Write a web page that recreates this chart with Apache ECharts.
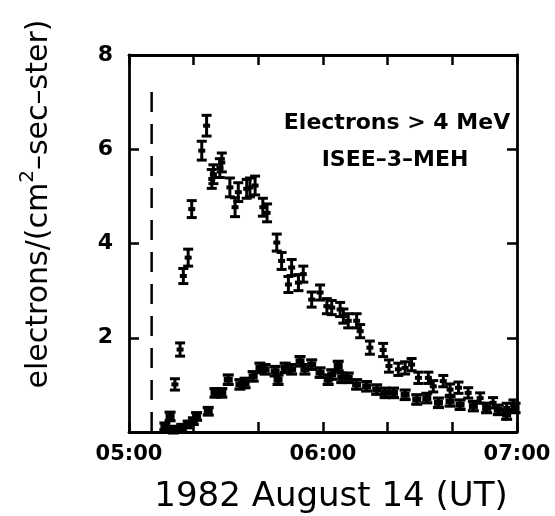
<!DOCTYPE html>
<html><head><meta charset="utf-8">
<script src="https://cdn.jsdelivr.net/npm/echarts@6/dist/echarts.min.js"></script>
<style>html,body{margin:0;padding:0;background:#fff}#c{width:555px;height:516px}</style>
</head><body><div id="c"></div>
<script>
// minutes after 05:00 UT
const hiTime = [14.2,15.8,16.8,18.3,19.4,22.5,24.0,25.6,26.1,28.1,28.7,31.2,32.8,33.8,36.4,37.4,39.0,41.4,42.7,45.7,47.2,49.3,50.3,52.4,53.9,56.5,59.1,61.2,62.7,65.3,66.3,67.8,70.4,71.5,74.5,78.6,80.4,83.3,85.4,87.4,89.5,92.6,94.1,97.2,99.3,101.9,104.9,108.6,112.6,116.8,118.9];
const hiFlux = [1.01,1.75,3.31,3.70,4.73,5.97,6.50,5.37,5.47,5.60,5.72,5.19,4.77,5.09,5.16,5.19,5.23,4.77,4.65,4.02,3.63,3.13,3.49,3.17,3.35,2.81,2.96,2.67,2.64,2.60,2.46,2.36,2.36,2.14,1.79,1.74,1.40,1.33,1.36,1.43,1.15,1.15,0.97,1.08,0.90,0.94,0.83,0.72,0.62,0.51,0.58];
const hiErr = [0.12,0.14,0.16,0.18,0.18,0.20,0.22,0.20,0.20,0.20,0.20,0.20,0.20,0.20,0.20,0.20,0.20,0.19,0.19,0.18,0.18,0.17,0.17,0.17,0.17,0.16,0.16,0.16,0.15,0.15,0.15,0.15,0.15,0.14,0.14,0.14,0.13,0.13,0.13,0.13,0.12,0.12,0.12,0.12,0.12,0.12,0.11,0.11,0.11,0.10,0.10];
const loTime = [11.1,12.7,13.7,16.3,18.3,19.9,20.9,24.5,26.6,28.7,30.7,34.3,35.9,38.4,40.5,42.1,45.2,46.1,48.3,50.3,52.9,54.4,56.5,59.1,61.6,62.7,64.7,65.8,67.8,70.4,73.5,76.6,79.2,81.8,85.4,89.0,92.1,95.7,99.3,102.4,106.5,110.6,114.2,116.8,119.4];
const loFlux = [0.12,0.33,0.05,0.09,0.16,0.23,0.33,0.44,0.83,0.83,1.11,1.01,1.04,1.18,1.36,1.33,1.29,1.11,1.36,1.33,1.50,1.33,1.43,1.26,1.11,1.22,1.40,1.15,1.15,1.01,0.97,0.90,0.83,0.83,0.79,0.69,0.72,0.62,0.65,0.58,0.55,0.51,0.47,0.37,0.51];
const loErr = [0.07,0.09,0.07,0.07,0.07,0.07,0.08,0.08,0.09,0.09,0.1,0.1,0.1,0.1,0.1,0.1,0.1,0.1,0.1,0.1,0.1,0.1,0.1,0.1,0.1,0.1,0.1,0.1,0.1,0.1,0.1,0.1,0.1,0.1,0.1,0.1,0.1,0.1,0.1,0.1,0.1,0.1,0.1,0.1,0.1];
const onsetTime = 7;
const onsetSpan = [0, 7.3];
const xTickValues = [0, 60, 120];
const xTickLabels = ['05:00', '06:00', '07:00'];
const yTickValues = [2, 4, 6, 8];
const yTickLabels = ['2', '4', '6', '8'];
const labelLine1 = 'Electrons > 4 MeV';
const labelLine2 = 'ISEE–3–MEH';
const xTitle = '1982 August 14 (UT)';

function errRender(capHalf, lw, cw, ch) {
  return function (params, api) {
    const t = api.value(0), v = api.value(1), e = api.value(2);
    const c = api.coord([t, v]);
    const top = api.coord([t, v + e]);
    const bot = api.coord([t, v - e]);
    const st = { stroke: '#000', lineWidth: lw, fill: null };
    return { type: 'group', children: [
      { type: 'line', shape: { x1: c[0], y1: top[1], x2: c[0], y2: bot[1] }, style: st },
      { type: 'line', shape: { x1: c[0] - capHalf, y1: top[1], x2: c[0] + capHalf, y2: top[1] }, style: st },
      { type: 'line', shape: { x1: c[0] - capHalf, y1: bot[1], x2: c[0] + capHalf, y2: bot[1] }, style: st },
      { type: 'rect', shape: { x: c[0] - cw / 2, y: c[1] - ch / 2, width: cw, height: ch }, style: { fill: '#000' } }
    ]};
  };
}

const axisCol = '#000';
const fontTick = 'DejaVu Sans';
const chart = echarts.init(document.getElementById('c'), null, { renderer: 'canvas' });
const xLab = v => { const i = xTickValues.indexOf(v); return i >= 0 ? xTickLabels[i] : ''; };
const yLab = v => { const i = yTickValues.indexOf(v); return i >= 0 ? yTickLabels[i] : ''; };
const baseX = {
  type: 'value', min: 0, max: 120, interval: 20,
  axisLine: { onZero: false, lineStyle: { color: axisCol, width: 2.8 } },
  axisTick: { inside: true, length: 10, lineStyle: { color: axisCol, width: 2.5 } },
  splitLine: { show: false }
};
const baseY = {
  type: 'value', min: 0, max: 8, interval: 2,
  axisLine: { onZero: false, lineStyle: { color: axisCol, width: 2.8 } },
  axisTick: { inside: true, length: 10, lineStyle: { color: axisCol, width: 2.5 } },
  splitLine: { show: false }
};
chart.setOption({
  animation: false,
  backgroundColor: '#fff',
  grid: { left: 129, right: 38, top: 55, bottom: 84 },
  xAxis: [
    Object.assign({}, baseX, { position: 'bottom', axisLabel: { formatter: xLab, showMinLabel: true, showMaxLabel: true, color: '#000', fontFamily: fontTick, fontWeight: 'bold', fontSize: 21, margin: 12 } }),
    Object.assign({}, baseX, { position: 'top', axisLabel: { show: false } })
  ],
  yAxis: [
    Object.assign({}, baseY, { position: 'left', axisLabel: { formatter: yLab, color: '#000', fontFamily: fontTick, fontWeight: 'bold', fontSize: 22, margin: 16 } }),
    Object.assign({}, baseY, { position: 'right', axisLabel: { show: false } })
  ],
  series: [
    { type: 'line', data: onsetSpan.map(v => [onsetTime, v]), symbol: 'none', silent: true,
      lineStyle: { color: '#000', width: 2.5, type: [20, 12] } },
    { type: 'custom', renderItem: errRender(5, 3, 7, 4), encode: { x: 0, y: 1 },
      data: hiTime.map((t, i) => [t, hiFlux[i], hiErr[i]]) },
    { type: 'custom', renderItem: errRender(5.5, 3.2, 9, 6), encode: { x: 0, y: 1 },
      data: loTime.map((t, i) => [t, loFlux[i], loErr[i]]) }
  ],
  graphic: [
    { type: 'text', x: 397, y: 123, style: { text: labelLine1, font: 'bold 22px "DejaVu Sans"', fill: '#000', textAlign: 'center', textVerticalAlign: 'middle' } },
    { type: 'text', x: 395, y: 160, style: { text: labelLine2, font: 'bold 22px "DejaVu Sans"', fill: '#000', textAlign: 'center', textVerticalAlign: 'middle' } },
    { type: 'text', x: 331, y: 497, style: { text: xTitle, font: '34px "DejaVu Sans"', fill: '#000', textAlign: 'center', textVerticalAlign: 'middle' } },
    { type: 'text', x: 36, y: 204, rotation: Math.PI / 2,
      style: { text: '{a|electrons/(cm}{s|2}{a|–sec–ster)}', textAlign: 'center', textVerticalAlign: 'middle', fill: '#000',
        rich: { a: { fontFamily: 'DejaVu Sans', fontSize: 30, lineHeight: 36, verticalAlign: 'bottom' },
                s: { fontFamily: 'DejaVu Sans', fontSize: 20, lineHeight: 36, verticalAlign: 'top', padding: [0, 0, 14, 0] } } } }
  ]
});
</script></body></html>
